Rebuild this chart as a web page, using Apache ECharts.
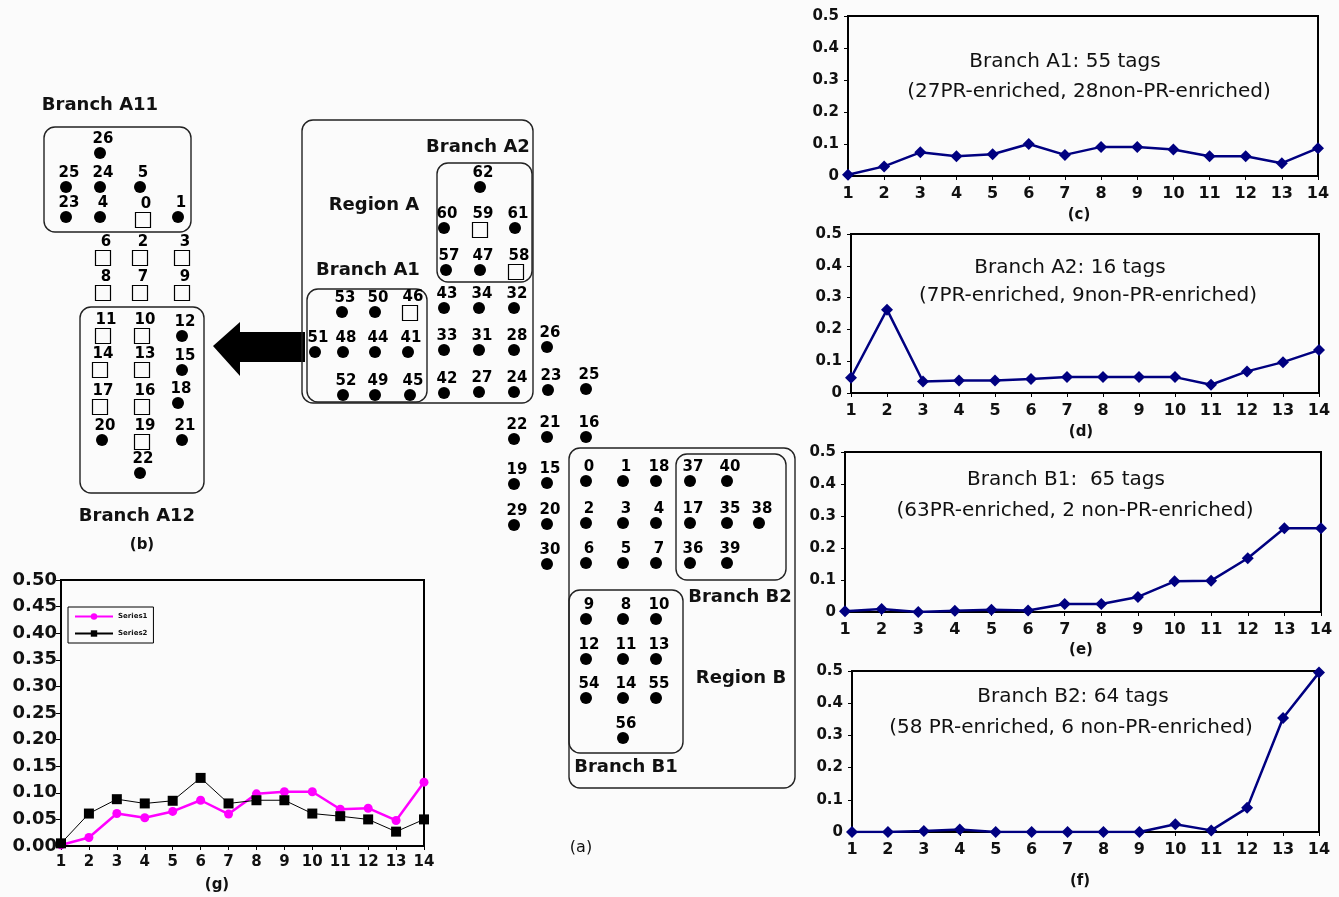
<!DOCTYPE html>
<html>
<head>
<meta charset="utf-8">
<script src="https://cdn.jsdelivr.net/npm/echarts@6/dist/echarts.min.js"></script>
<style>
  html, body { margin: 0; padding: 0; background: #fbfbfb; }
  #main { width: 1339px; height: 897px; }
</style>
</head>
<body>
<div id="main"></div>
<script>
// x categories shared by every line panel
const steps = ['1','2','3','4','5','6','7','8','9','10','11','12','13','14'];

// (c)-(f) fractions per step
const branchA1 = [0.004, 0.030, 0.074, 0.062, 0.068, 0.100, 0.066, 0.091, 0.091, 0.083, 0.062, 0.062, 0.040, 0.087];
const branchA2 = [0.048, 0.262, 0.036, 0.039, 0.039, 0.044, 0.050, 0.050, 0.050, 0.050, 0.026, 0.068, 0.097, 0.135];
const branchB1 = [0.002, 0.009, 0.000, 0.004, 0.007, 0.005, 0.025, 0.025, 0.047, 0.096, 0.098, 0.168, 0.262, 0.262];
const branchB2 = [0.000, 0.000, 0.003, 0.008, 0.000, 0.000, 0.000, 0.000, 0.000, 0.024, 0.005, 0.075, 0.354, 0.495];

// (g)
const series1 = [0.002, 0.016, 0.061, 0.053, 0.065, 0.086, 0.060, 0.098, 0.102, 0.102, 0.069, 0.071, 0.048, 0.120];
const series2 = [0.005, 0.061, 0.088, 0.080, 0.085, 0.128, 0.080, 0.086, 0.086, 0.061, 0.056, 0.050, 0.027, 0.050];

// diagram tags: [x, y, label, open square?] in page units
const tagsB = [
  [100,153,'26',0],[66,187,'25',0],[100,187,'24',0],[140,187,'5',0],
  [66,217,'23',0],[100,217,'4',0],[143,220,'0',1],[178,217,'1',0],
  [103,258,'6',1],[140,258,'2',1],[182,258,'3',1],
  [103,293,'8',1],[140,293,'7',1],[182,293,'9',1],
  [103,336,'11',1],[142,336,'10',1],[182,336,'12',0],
  [100,370,'14',1],[142,370,'13',1],[182,370,'15',0],
  [100,407,'17',1],[142,407,'16',1],[178,403,'18',0],
  [102,440,'20',0],[142,442,'19',1],[182,440,'21',0],
  [140,473,'22',0]
];
const tagsRegionA = [
  [480,187,'62',0],[444,228,'60',0],[480,230,'59',1],[515,228,'61',0],
  [446,270,'57',0],[480,270,'47',0],[516,272,'58',1],
  [342,312,'53',0],[375,312,'50',0],[410,313,'46',1],
  [444,308,'43',0],[479,308,'34',0],[514,308,'32',0],
  [315,352,'51',0],[343,352,'48',0],[375,352,'44',0],[408,352,'41',0],
  [444,350,'33',0],[479,350,'31',0],[514,350,'28',0],[547,347,'26',0],
  [343,395,'52',0],[375,395,'49',0],[410,395,'45',0],
  [444,393,'42',0],[479,392,'27',0],[514,392,'24',0],[548,390,'23',0],[586,389,'25',0]
];
const tagsRegionB = [
  [514,439,'22',0],[547,437,'21',0],[586,437,'16',0],
  [514,484,'19',0],[547,483,'15',0],[514,525,'29',0],[547,524,'20',0],[547,564,'30',0],
  [586,481,'0',0],[623,481,'1',0],[656,481,'18',0],
  [586,523,'2',0],[623,523,'3',0],[656,523,'4',0],
  [586,563,'6',0],[623,563,'5',0],[656,563,'7',0],
  [690,481,'37',0],[727,481,'40',0],
  [690,523,'17',0],[727,523,'35',0],[759,523,'38',0],
  [690,563,'36',0],[727,563,'39',0],
  [586,619,'9',0],[623,619,'8',0],[656,619,'10',0],
  [586,659,'12',0],[623,659,'11',0],[656,659,'13',0],
  [586,698,'54',0],[623,698,'14',0],[656,698,'55',0],
  [623,738,'56',0]
];
// rounded boxes [x1, y1, x2, y2]
const boxes = [
  [44,127,191,232],[80,307,204,493],
  [302,120,533,403],[437,163,532,282],[307,289,427,402],
  [569,448,795,788],[676,454,786,580],[569,590,683,753]
];

const FONT = '"DejaVu Sans", Verdana, sans-serif';
const chart = echarts.init(document.getElementById('main'));

const allTags = tagsB.concat(tagsRegionA, tagsRegionB);
const toItem = t => ({ value: [t[0], t[1]], name: t[2] });
const tagLabel = {
  show: true, position: 'top', distance: 0, offset: [3, 0], formatter: '{b}',
  fontFamily: FONT, fontWeight: 'bold', fontSize: 15, color: '#000'
};

// line panels
const panels = [
  { grid: { left: 848, top: 16, width: 470, height: 160 }, data: branchA1 },
  { grid: { left: 851, top: 234, width: 468, height: 159 }, data: branchA2 },
  { grid: { left: 845, top: 452, width: 476, height: 160 }, data: branchB1 },
  { grid: { left: 852, top: 671, width: 467, height: 161 }, data: branchB2 }
];

const grids = [{ left: 0, top: 0, width: 1339, height: 897, show: false }];
const xAxes = [{ type: 'value', gridIndex: 0, min: 0, max: 1339, show: false }];
const yAxes = [{ type: 'value', gridIndex: 0, min: 0, max: 897, inverse: true, show: false }];
const seriesList = [
  {
    type: 'custom', xAxisIndex: 0, yAxisIndex: 0, silent: true, data: boxes,
    renderItem: (params, api) => {
      const p1 = api.coord([api.value(0), api.value(1)]);
      const p2 = api.coord([api.value(2), api.value(3)]);
      return {
        type: 'rect',
        shape: { x: p1[0], y: p1[1], width: p2[0] - p1[0], height: p2[1] - p1[1], r: 11 },
        style: { fill: 'none', stroke: '#222', lineWidth: 1.4 }
      };
    }
  },
  {
    type: 'scatter', xAxisIndex: 0, yAxisIndex: 0, symbol: 'circle', symbolSize: 12,
    itemStyle: { color: '#000', opacity: 1 }, label: tagLabel,
    data: allTags.filter(t => !t[3]).map(toItem)
  },
  {
    type: 'scatter', xAxisIndex: 0, yAxisIndex: 0, symbol: 'rect', symbolSize: 15,
    itemStyle: { color: 'rgba(255,255,255,0)', borderColor: '#000', borderWidth: 1.2, opacity: 1 }, label: tagLabel,
    data: allTags.filter(t => t[3]).map(toItem)
  }
];

panels.forEach((p, i) => {
  const gi = i + 1;
  grids.push(Object.assign({ show: true, borderColor: '#000', borderWidth: 2, backgroundColor: 'transparent' }, p.grid));
  xAxes.push({
    type: 'category', gridIndex: gi, data: steps, boundaryGap: false,
    axisLine: { lineStyle: { color: '#000', width: 2 } },
    axisTick: { show: true, length: 4, lineStyle: { color: '#000' } },
    axisLabel: { interval: 0, fontFamily: FONT, fontWeight: 'bold', fontSize: 16, color: '#111', margin: 10 }
  });
  yAxes.push({
    type: 'value', gridIndex: gi, min: 0, max: 0.5, interval: 0.1,
    splitLine: { show: false },
    axisLine: { show: true, lineStyle: { color: '#000', width: 2 } },
    axisTick: { show: true, length: 4, lineStyle: { color: '#000' } },
    axisLabel: {
      fontFamily: FONT, fontWeight: 'bold', fontSize: 15, color: '#111', margin: 9,
      formatter: v => (v === 0 ? '0' : v.toFixed(1))
    }
  });
  seriesList.push({
    type: 'line', xAxisIndex: gi, yAxisIndex: gi, data: p.data,
    symbol: 'diamond', symbolSize: 12,
    lineStyle: { color: '#000080', width: 2.5 },
    itemStyle: { color: '#000080' }
  });
});

// (g)
grids.push({ left: 61, top: 580, width: 363, height: 266, show: true, borderColor: '#000', borderWidth: 2, backgroundColor: 'transparent' });
xAxes.push({
  type: 'category', gridIndex: 5, data: steps, boundaryGap: false,
  axisLine: { lineStyle: { color: '#000', width: 2 } },
  axisTick: { show: true, length: 4, lineStyle: { color: '#000' } },
  axisLabel: { interval: 0, hideOverlap: false, fontFamily: FONT, fontWeight: 'bold', fontSize: 15, color: '#111', margin: 9 }
});
yAxes.push({
  type: 'value', gridIndex: 5, min: 0, max: 0.5, interval: 0.05,
  splitLine: { show: false },
  axisLine: { show: true, lineStyle: { color: '#000', width: 2 } },
  axisTick: { show: true, length: 5, lineStyle: { color: '#000' } },
  axisLabel: { fontFamily: FONT, fontWeight: 'bold', fontSize: 18, color: '#111', margin: 4, formatter: v => v.toFixed(2) }
});
seriesList.push({
  name: 'Series1', type: 'line', xAxisIndex: 5, yAxisIndex: 5, data: series1,
  symbol: 'circle', symbolSize: 9,
  lineStyle: { color: '#ff00ff', width: 2.5 }, itemStyle: { color: '#ff00ff' }
});
seriesList.push({
  name: 'Series2', type: 'line', xAxisIndex: 5, yAxisIndex: 5, data: series2,
  symbol: 'rect', symbolSize: 10,
  lineStyle: { color: '#000', width: 1 }, itemStyle: { color: '#000' }
});

function txt(text, x, y, size, weight) {
  return {
    type: 'text', x: x, y: y, silent: true,
    style: {
      text: text, fill: '#111', font: (weight || 'normal') + ' ' + size + 'px ' + FONT,
      textAlign: 'center', textVerticalAlign: 'middle', align: 'center', verticalAlign: 'middle'
    }
  };
}

const graphics = [
  { type: 'polygon', silent: true,
    shape: { points: [[213,346],[240,322],[240,332],[305,332],[305,362],[240,362],[240,376]] },
    style: { fill: '#000' } },
  txt('Branch A11', 100, 105, 18, 'bold'),
  txt('Branch A12', 137, 516, 18, 'bold'),
  txt('(b)', 142, 545, 15, 'bold'),
  txt('Branch A2', 478, 147, 18, 'bold'),
  txt('Region A', 374, 205, 18, 'bold'),
  txt('Branch A1', 368, 270, 18, 'bold'),
  txt('Branch B2', 740, 597, 18, 'bold'),
  txt('Region B', 741, 678, 18, 'bold'),
  txt('Branch B1', 626, 767, 18, 'bold'),
  txt('(a)', 581, 848, 16, 'normal'),
  txt('Branch A1: 55 tags', 1065, 62, 20),
  txt('(27PR-enriched, 28non-PR-enriched)', 1089, 92, 20),
  txt('(c)', 1079, 215, 15, 'bold'),
  txt('Branch A2: 16 tags', 1070, 268, 20),
  txt('(7PR-enriched, 9non-PR-enriched)', 1088, 296, 20),
  txt('(d)', 1081, 432, 15, 'bold'),
  txt('Branch B1:  65 tags', 1066, 480, 20),
  txt('(63PR-enriched, 2 non-PR-enriched)', 1075, 511, 20),
  txt('(e)', 1081, 650, 15, 'bold'),
  txt('Branch B2: 64 tags', 1073, 697, 20),
  txt('(58 PR-enriched, 6 non-PR-enriched)', 1071, 728, 20),
  txt('(f)', 1080, 881, 15, 'bold'),
  txt('(g)', 217, 885, 15, 'bold')
];

chart.setOption({
  backgroundColor: '#fbfbfb',
  animation: false,
  legend: {
    data: ['Series1', 'Series2'], orient: 'vertical', left: 68, top: 607,
    borderColor: '#000', borderWidth: 1, padding: [6, 6], itemGap: 10,
    itemWidth: 38, itemHeight: 8,
    textStyle: { fontFamily: FONT, fontSize: 7, fontWeight: 'bold', color: '#111' }
  },
  grid: grids,
  xAxis: xAxes,
  yAxis: yAxes,
  series: seriesList,
  graphic: graphics
});
</script>
</body>
</html>
